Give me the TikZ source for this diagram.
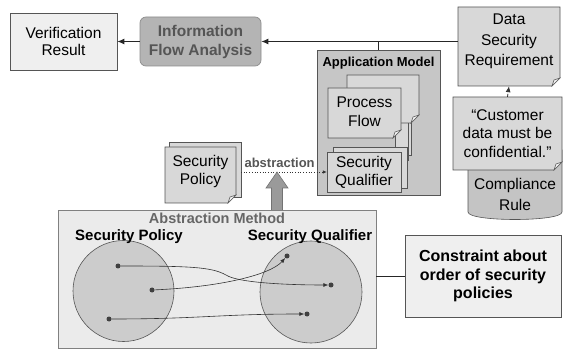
\documentclass[tikz,border=0pt]{standalone}
\usepackage{fontspec}
\setmainfont{Liberation Sans}
\usetikzlibrary{arrows.meta,calc}
\definecolor{vrfill}{HTML}{EFEFEF}
\definecolor{ifafill}{HTML}{B4B4B4}
\definecolor{ifatext}{HTML}{555555}
\definecolor{docfill}{HTML}{D8D8D8}
\definecolor{appfill}{HTML}{C6C6C6}
\definecolor{cylfill}{HTML}{C4C4C4}
\definecolor{amfill}{HTML}{EBEBEB}
\definecolor{amtext}{HTML}{666666}
\definecolor{circfill}{HTML}{CCCCCC}
\definecolor{edge}{HTML}{555555}
\definecolor{flapfill}{HTML}{F2F2F2}
\definecolor{bigarr}{HTML}{9A9A9A}
\newcommand\docfold[5]{%
  \filldraw[fill=#5, draw=edge, line width=0.6pt] (#1,#2) -- (#3,#2) -- (#3,#4-8) -- (#3-8,#4) -- (#1,#4) -- cycle;
  \filldraw[fill=flapfill, draw=edge, line width=0.5pt] (#3,#4-8) -- (#3-8,#4) -- (#3-6,#4-6) -- cycle;
}
\newcommand\pagerect[5]{%
  \filldraw[fill=#5, draw=edge, line width=0.6pt] (#1,#2) rectangle (#3,#4);
}
\newcommand\fs[2]{\fontsize{#1}{#2}\selectfont}
\tikzset{
  txt/.style={font=\fs{15.5}{19}, align=center, inner sep=0pt},
  boxed/.style={txt, draw=edge, line width=0.7pt},
  textonly/.style={txt, draw=none, fill=none},
  dotnode/.style={circle, fill=black!75, draw=none, minimum size=5pt, inner sep=0pt},
  setcirc/.style={circle, fill=circfill, draw=edge, line width=0.6pt, inner sep=0pt},
  mainarrow/.style={line width=1pt, black!85, -{Latex[length=7pt,width=6pt]}},
  thinarrow/.style={line width=0.6pt, black!80, -{Latex[length=5pt,width=4pt]}},
}
\begin{document}
\begin{tikzpicture}[x=1pt,y=-1pt]
\useasboundingbox (0,0) rectangle (563,350);

% ---- top row
\node[boxed, fill=vrfill, font=\fs{15.5}{17}, minimum width=107pt, minimum height=57pt] (vr) at (63.5,41.5) {Verification\\Result};
\node[boxed, fill=ifafill, draw=black!45, rounded corners=6pt, text=ifatext, font=\fs{15.5}{19}\bfseries,
      minimum width=121pt, minimum height=49pt] (ifa) at (200.5,41.5) {Information\\Flow Analysis};

% Data security requirement
\docfold{458}{7}{560}{86}{docfill}
\node[textonly, minimum width=102pt, minimum height=79pt,
      label={[textonly, font=\fs{15.5}{20.5}, anchor=center, yshift=5pt]center:Data\\Security\\Requirement}] (dsr) at (509,46.5) {};

% ---- application model
\node[draw=edge, fill=appfill, line width=0.7pt, minimum width=123pt, minimum height=145pt, inner sep=0pt,
      label={[anchor=north, yshift=-7pt, inner sep=0pt, font=\fs{13}{15}\bfseries]north:Application Model}] (app) at (378.5,122.5) {};
% process flow stack
\pagerect{398}{85}{411}{155}{docfill}
\pagerect{395}{88}{408}{160}{docfill}
\docfold{347}{75}{419}{123}{docfill}
\docfold{328}{88}{401}{138}{docfill}
\node[textonly, minimum width=73pt, minimum height=50pt] (pf) at (364.5,112) {Process\\Flow};
% security qualifier stack
\pagerect{333}{147}{407}{188}{docfill}
\pagerect{327}{152}{401}{192}{docfill}
\node[textonly, font=\fs{15.5}{18}, minimum width=74pt, minimum height=40pt] (sq) at (364,172) {Security\\Qualifier};

% ---- security policy document
\pagerect{169}{142}{241}{197}{docfill}
\docfold{165}{147}{236}{203}{docfill}
\node[textonly, font=\fs{15.5}{18}, minimum width=71pt, minimum height=56pt] (sp) at (200.5,171) {Security\\Policy};

% ---- compliance rule cylinder and quote
\filldraw[fill=cylfill, draw=edge, line width=0.6pt] (468,150) -- (468,212) .. controls (468,222) and (562,222) .. (562,212) -- (562,150) -- cycle;
\node[textonly, font=\fs{15.5}{21}] (crule) at (515,194) {Compliance\\Rule};
\docfold{453}{97}{562}{170}{docfill}
\node[textonly, font=\fs{15.5}{18.5}, minimum width=109pt, minimum height=73pt] (quote) at (507.5,133.5) {``Customer\\data must be\\confidential.''};

% ---- abstraction method
\node[draw=black!50, fill=amfill, line width=0.7pt, minimum width=318pt, minimum height=138pt, inner sep=0pt,
      label={[anchor=north, yshift=-3pt, inner sep=0pt, text=amtext, font=\fs{14.5}{16}\bfseries]north:Abstraction Method}] (am) at (217,279) {};
\node[setcirc, minimum size=101pt] (cl) at (123.5,291) {};
\node[setcirc, minimum size=102pt] (cright) at (311,292) {};
\node[txt, font=\fs{15}{16}\bfseries] (lsp) at (129,237) {Security Policy};
\node[txt, font=\fs{15}{16}\bfseries] (lsq) at (310,237) {Security Qualifier};
\node[dotnode] (d1) at (118,266) {};
\node[dotnode] (d2) at (152,290) {};
\node[dotnode] (d3) at (109,319) {};
\node[dotnode] (e1) at (287,256) {};
\node[dotnode] (e2) at (331,285) {};
\node[dotnode] (e3) at (307,314) {};
\draw[thinarrow] (d1) .. controls (190,266) and (212,267) .. (226,275) .. controls (238,283) and (290,285) .. (e2);
\draw[thinarrow] (d2) .. controls (220,287) and (270,275) .. (e1);
\draw[thinarrow] (d3) .. controls (200,319) and (220,314) .. (e3);

% constraint box
\node[boxed, fill=vrfill, font=\fs{16}{18.5}\bfseries, minimum width=156pt, minimum height=82pt] (cb) at (483,276) {Constraint about\\order of security\\policies};
\draw[line width=0.8pt, black!85] (am.east |- cb.west) -- (cb.west);

% ---- connectors
\draw[mainarrow] (ifa.west) -- (vr.east);
\draw[mainarrow] (dsr.west |- ifa.east) -- (ifa.east);
\draw[line width=1pt, black!85] (app.north) -- (app.north |- ifa.east);
\draw[line width=0.8pt, black!80, dashed, -{Latex[length=6pt,width=5pt]}] (quote.north) -- (dsr.south);

\coordinate (spr) at (241,172);
\draw[line width=0.7pt, black!80, dotted, -{Latex[length=4pt,width=3.5pt]}] (spr) -- node[pos=0.45, above=4pt, inner sep=0pt, text=ifatext, font=\fs{13}{15}\bfseries] (abst) {abstraction} (sq.west |- spr);

% big upward arrow from abstraction method
\coordinate (bigtip) at (277,172);
\filldraw[fill=bigarr, draw=black!55, line width=0.6pt]
  ($(bigtip)+(-5.5,38)$) -- ($(bigtip)+(-5.5,16)$) -- ($(bigtip)+(-11,16)$) -- (bigtip)
  -- ($(bigtip)+(11,16)$) -- ($(bigtip)+(5.5,16)$) -- ($(bigtip)+(5.5,38)$);
\end{tikzpicture}
\end{document}
